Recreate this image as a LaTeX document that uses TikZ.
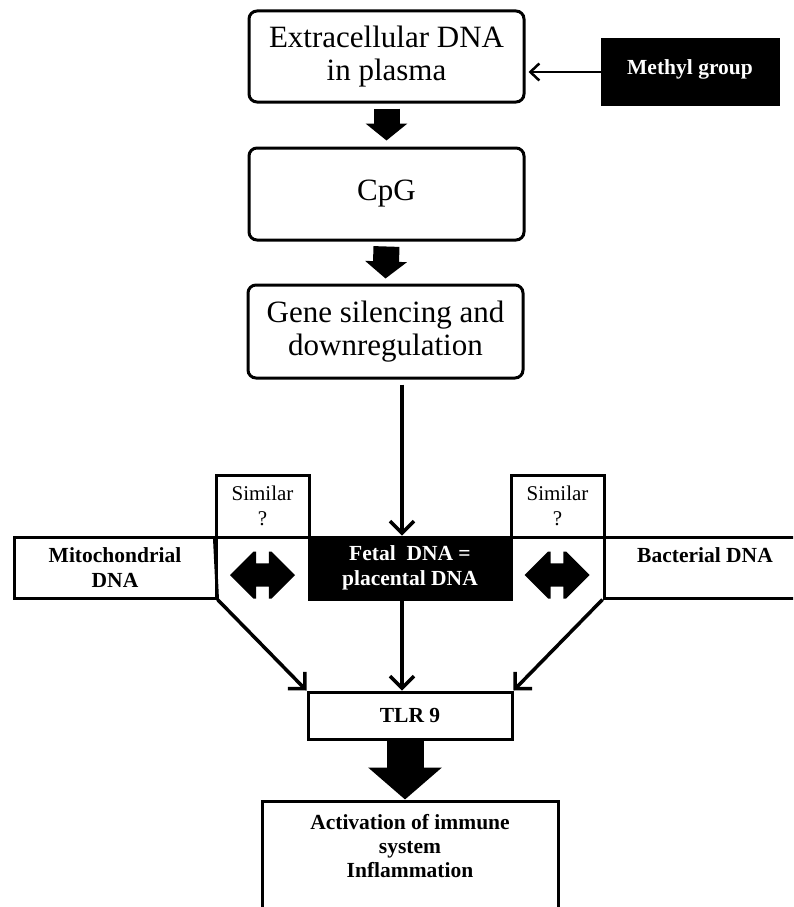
\documentclass[tikz,border=0pt]{standalone}
\usepackage{fontspec}
\setmainfont{Liberation Serif}
\usetikzlibrary{arrows.meta}
\tikzset{
  dblarrow/.pic={\fill[black] (-32.5,0) -- (-9,23.5) -- (-6.3,23.5) -- (-6.3,11.7) -- (6.3,11.7) -- (6.3,23.5) -- (9,23.5) -- (32.5,0) -- (9,-23.5) -- (6.3,-23.5) -- (6.3,-11.7) -- (-6.3,-11.7) -- (-6.3,-23.5) -- (-9,-23.5) -- cycle;}
}
\begin{document}
\begin{tikzpicture}[x=1pt,y=1pt,
  rbox/.style={draw, line width=3pt, rounded corners=8pt, minimum width=275pt, align=center, inner sep=0pt, font=\fontsize{31}{33}\selectfont},
  sbox/.style={draw, line width=3pt, inner sep=0pt, align=center, font=\bfseries\fontsize{21.5}{24.5}\selectfont},
  blk/.style={sbox, fill=black, text=white},
  simbox/.style={draw, line width=3pt, inner sep=0pt, align=center, minimum width=93pt, minimum height=62pt, font=\fontsize{21}{25}\selectfont},
  thinarr/.style={line width=3.5pt, -{Straight Barb[length=12pt,width=24pt]}},
  fatarr/.style n args={3}{line width=#1, -{Triangle[length=#2,width=#3]}}
]
\clip (0,0) rectangle (793,-907);
% boxes
\node[rbox, minimum height=91pt] (ext) at (386.5,-56.5) {Extracellular DNA\\in plasma};
\node[rbox, minimum height=92pt] (cpg) at (386.5,-194) {CpG};
\node[rbox, minimum height=93pt] (gene) at (385.5,-331.5) {Gene silencing and\\downregulation};
\node[blk, minimum width=176pt, minimum height=64pt, text depth=10pt] (methyl) at (690,-72) {Methyl group};
\node[simbox] (sim1) at (262.5,-506) {Similar\\?};
\node[simbox] (sim2) at (557.5,-506) {Similar\\?};
\node[sbox, minimum width=202pt, minimum height=61pt] (mito) at (115,-567.5) {Mitochondrial\\DNA};
\node[blk, minimum width=202pt, minimum height=62pt] (fetal) at (410,-568) {Fetal\ \ DNA =\\placental DNA};
\node[sbox, minimum width=202pt, minimum height=61pt] (bact) at (705,-567.5) {Bacterial DNA\\\phantom{DNA}};
\node[sbox, minimum width=204pt, minimum height=47pt] (tlr) at (410,-715.5) {TLR 9};
\node[sbox, minimum width=296pt, minimum height=120pt] (actbox) at (410,-861) {};
\node[align=center, inner sep=0pt, font=\bfseries\fontsize{21.5}{24}\selectfont] (acttext) at (410,-846) {Activation of immune\\system\\Inflammation};
% cell border
\draw[line width=3pt] (sim1.south west) -- (mito.south east);
% double arrows
\pic at (262.5,-575) {dblarrow};
\pic at (557,-575) {dblarrow};
% connectors
\draw[line width=2.5pt, -{Straight Barb[length=9pt,width=17pt]}] (methyl.west) -- ([xshift=3pt]methyl.west -| ext.east);
\draw[fatarr={26pt}{17pt}{41pt}] ([yshift=-5pt]ext.south) -- ([yshift=6pt]cpg.north);
\draw[fatarr={26pt}{17pt}{41pt}] ([yshift=-5pt]cpg.south) -- ([yshift=5pt]gene.north);
\draw[thinarr] ([shift={(16.5pt,-5pt)}]gene.south) -- ([xshift=-8pt]fetal.north);
\draw[thinarr] ([xshift=-8pt]fetal.south) -- ([xshift=-8pt]tlr.north);
\draw[thinarr] (mito.south east) -- (tlr.north west);
\draw[thinarr] (bact.south west) -- (tlr.north east);
\draw[fatarr={37pt}{32pt}{72pt}] ([xshift=-5pt]tlr.south) -- ([xshift=-5pt]actbox.north);
\end{tikzpicture}
\end{document}
